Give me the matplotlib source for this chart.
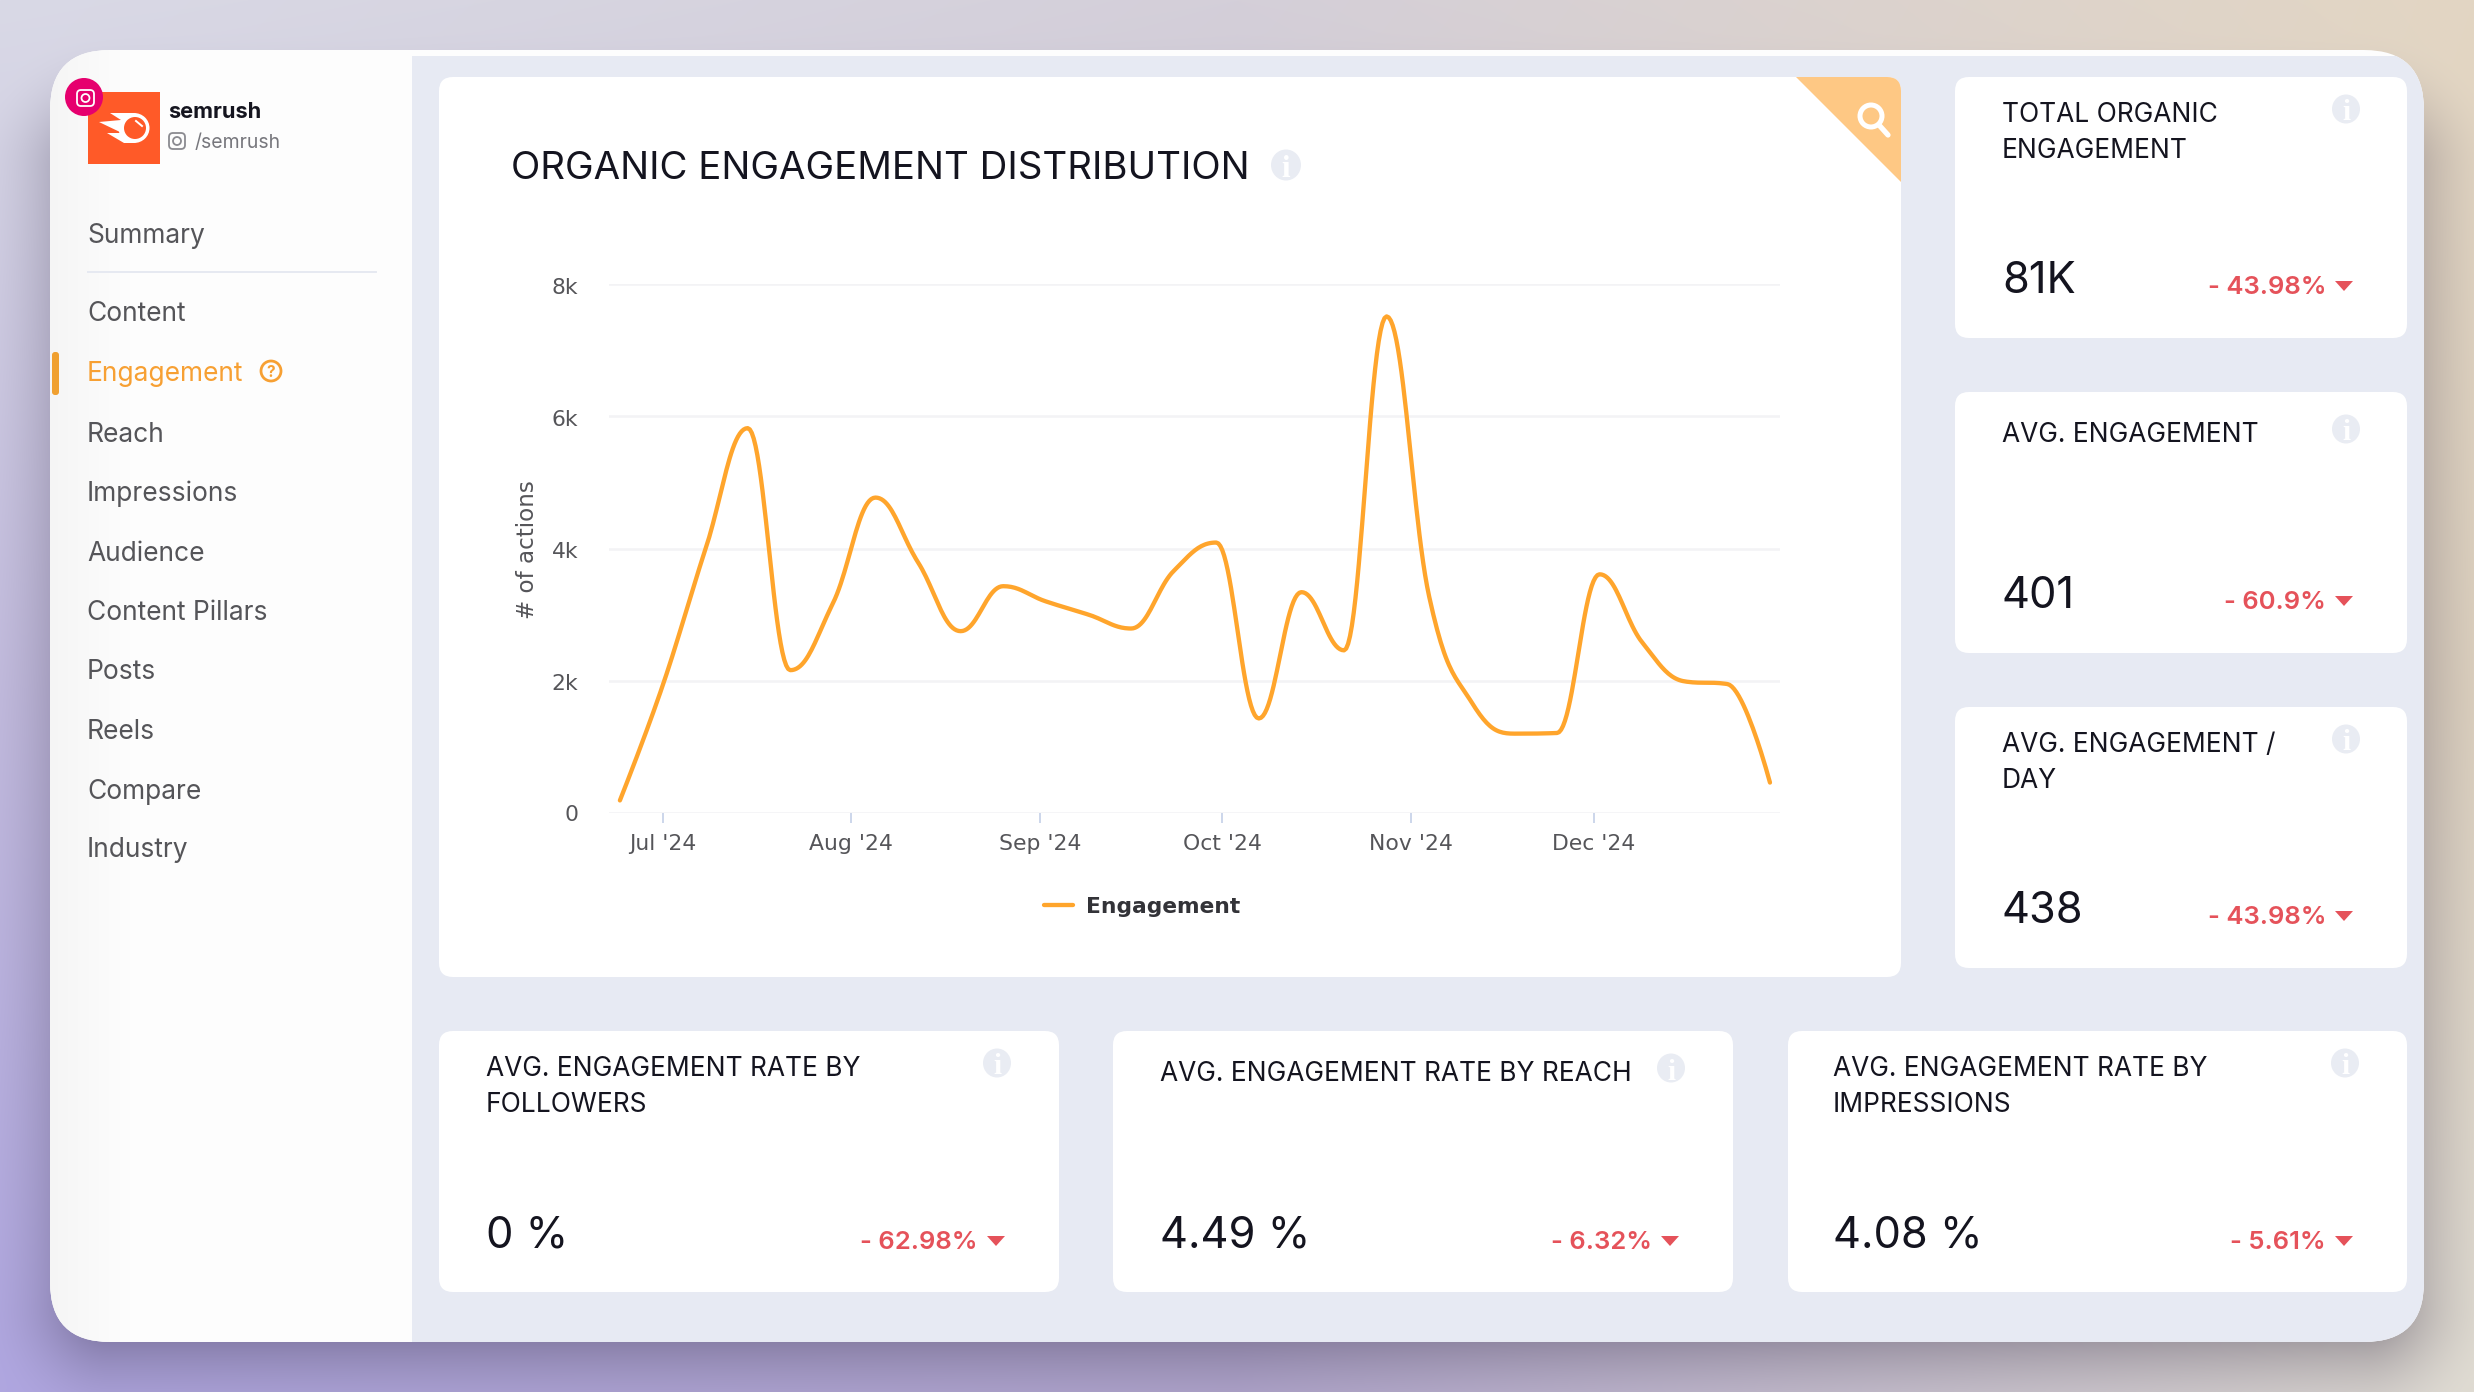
import numpy as np
import matplotlib
matplotlib.use("Agg")
import matplotlib.pyplot as plt
import matplotlib.dates as mdates
from datetime import date, timedelta
from matplotlib.font_manager import FontProperties
from matplotlib.patches import FancyBboxPatch, Polygon, Ellipse, Circle, Rectangle
from matplotlib.textpath import TextPath
from matplotlib.ticker import FuncFormatter
from matplotlib.lines import Line2D
from matplotlib.transforms import ScaledTranslation

# ---------- data ----------
NAV_ITEMS = ["Summary", "Content", "Engagement", "Reach", "Impressions", "Audience",
             "Content Pillars", "Posts", "Reels", "Compare", "Industry"]
WEEK_START = date(2024, 6, 24)
ENGAGEMENT = [190, 1920, 3970, 5820, 2160, 3170, 4770, 3790, 2750, 3430, 3200, 3000, 2790, 3660,
              4090, 1430, 3340, 2460, 7510, 3270, 1670, 1200, 1210, 3610, 2580, 1990, 1950, 460]
Y_TICKS = [0, 2000, 4000, 6000, 8000]
MONTH_TICKS = [date(2024, 7, 1), date(2024, 8, 1), date(2024, 9, 1),
               date(2024, 10, 1), date(2024, 11, 1), date(2024, 12, 1)]
MONTH_LABELS = ["Jul '24", "Aug '24", "Sep '24", "Oct '24", "Nov '24", "Dec '24"]
KPI_SIDE_TITLES = [["TOTAL ORGANIC", "ENGAGEMENT"], ["AVG. ENGAGEMENT"], ["AVG. ENGAGEMENT /", "DAY"]]
KPI_SIDE_VALUES = ["81K", "401", "438"]
KPI_SIDE_CHANGES = ["- 43.98%", "- 60.9%", "- 43.98%"]
KPI_BOTTOM_TITLES = [["AVG. ENGAGEMENT RATE BY", "FOLLOWERS"], ["AVG. ENGAGEMENT RATE BY REACH"],
                     ["AVG. ENGAGEMENT RATE BY", "IMPRESSIONS"]]
KPI_BOTTOM_VALUES = ["0 %", "4.49 %", "4.08 %"]
KPI_BOTTOM_CHANGES = ["- 62.98%", "- 6.32%", "- 5.61%"]

W, H = 2474, 1392
FONT = "Inter"
DARK = "#14141F"; GREY = "#555559"; ORANGE = "#F7A033"; LINE = "#FFA52C"; RED = "#E5525A"
CONTENT = "#E7EAF3"; INFO = "#E9ECF3"

def fit(s, px, family=FONT, weight="normal"):
    fp = FontProperties(family=family, weight=weight)
    w = TextPath((0, 0), s, size=100, prop=fp).get_extents().width
    return 100 * px * 0.72 / w

SZ_TITLE = fit("TOTAL ORGANIC", 213)
SZ_HEAD = fit("ORGANIC ENGAGEMENT DISTRIBUTION", 733)
SZ_VALUE = fit("438", 76.5)
SZ_CHANGE = fit("- 43.98%", 114, FONT, "semibold")
SZ_NAV = fit("Summary", 116)
SZ_TICK = fit("Jul '24", 67, "DejaVu Sans")
SZ_LEG = fit("Engagement", 152, "DejaVu Sans", "bold")
SZ_AXT = fit("# of actions", 136, "DejaVu Sans")

fig = plt.figure(figsize=(W / 100, H / 100), dpi=100)
bg = fig.add_axes([0, 0, 1, 1], zorder=0)
bg.set_xlim(0, W); bg.set_ylim(H, 0); bg.axis("off")

# ---------- backdrop with soft shadow ----------
def sdf(X, Y, x0, y0, x1, y1, r):
    cx, cy = (x0 + x1) / 2, (y0 + y1) / 2
    qx = np.abs(X - cx) - (x1 - x0) / 2 + r
    qy = np.abs(Y - cy) - (y1 - y0) / 2 + r
    return np.hypot(np.maximum(qx, 0), np.maximum(qy, 0)) + np.minimum(np.maximum(qx, qy), 0) - r

ys, xs = np.mgrid[0:H, 0:W]
grid = np.array([[[0xD9, 0xD9, 0xE6], [0xD4, 0xCF, 0xD9], [0xE3, 0xD6, 0xC3]],
                 [[0xC3, 0xBC, 0xDF], [0xC4, 0xBC, 0xCF], [0xDD, 0xD1, 0xBF]],
                 [[0xAF, 0xA6, 0xE0], [0xB3, 0xA8, 0xCF], [0xDF, 0xDB, 0xD2]]], float) / 255
u = xs / (W - 1) * 2; v = ys / (H - 1) * 2
i = np.clip(u.astype(int), 0, 1); j = np.clip(v.astype(int), 0, 1)
fu = (u - i)[..., None]; fv = (v - j)[..., None]
img = (grid[j, i] * (1 - fu) * (1 - fv) + grid[j, i + 1] * fu * (1 - fv)
       + grid[j + 1, i] * (1 - fu) * fv + grid[j + 1, i + 1] * fu * fv)
d = sdf(xs, ys, 50, 110, 2424, 1362, 60)
sh = np.clip(1 - (d + 30) / 110, 0, 1) ** 2 * 0.34
img = img * (1 - sh[..., None]) + np.array([0.13, 0.10, 0.2]) * sh[..., None]
bg.imshow(img, extent=(0, W, H, 0), aspect="auto", zorder=0, interpolation="nearest")

def round_box(x0, y0, x1, y1, r, color, z=2, **kw):
    p = FancyBboxPatch((x0 + r, y0 + r), x1 - x0 - 2 * r, y1 - y0 - 2 * r,
                       boxstyle=f"round,pad={r},rounding_size={r}", fc=color, ec="none", zorder=z, **kw)
    bg.add_patch(p)
    return p

panel = round_box(50, 50, 2424, 1342, 60, "#FDFDFD", z=1)
grad = np.linspace(0.962, 0.992, 80)[None, :, None].repeat(3, axis=2)
im = bg.imshow(grad, extent=(50, 130, 1342, 50), aspect="auto", zorder=1.1)
im.set_clip_path(panel)
cont = Rectangle((412, 56), 2012, 1286, fc=CONTENT, ec="none", zorder=1.2)
bg.add_patch(cont); cont.set_clip_path(panel)

def label(x, y, s, size, color=DARK, ha="left", va="center_baseline", family=FONT, **kw):
    return bg.text(x, y, s, fontsize=size, color=color, ha=ha, va=va, family=family, zorder=5, **kw)

# ---------- sidebar ----------
NAV_Y = [233, 311, 371, 432, 491, 551, 610, 669, 729, 789, 847]
for name, y in zip(NAV_ITEMS, NAV_Y):
    label(87, y, name, SZ_NAV, ORANGE if name == "Engagement" else GREY)
bg.add_line(Line2D([88, 376], [272, 272], color="#E6E9F1", lw=1.4, zorder=3))
round_box(52, 352, 59, 395, 3, "#F0A030", z=1.3)
bg.add_patch(Circle((271, 371), 10, fc="none", ec=ORANGE, lw=2, zorder=5))
label(271, 371, "?", 11, ORANGE, ha="center", weight="bold")

bg.add_patch(Rectangle((88, 92), 72, 72, fc="#FF5A28", ec="none", zorder=3))
bg.add_patch(Polygon([(110, 113), (134, 113), (149, 128), (134, 143), (124, 143), (107, 133),
                      (122, 133), (99, 122), (121, 120)], fc="white", ec="none", zorder=3.1))
bg.add_patch(Ellipse((134, 128), 31, 30, fc="white", ec="none", zorder=3.1))
bg.add_patch(Circle((135, 128), 11, fc="#FF5A28", ec="none", zorder=3.2))
bg.add_line(Line2D([136, 142], [121, 126], color="white", lw=1.4, zorder=3.3))
bg.add_patch(Circle((84, 97), 19, fc="#E6006E", ec="none", zorder=4))
round_box(77, 90, 94, 106, 4, "none", z=4.1).set(ec="white", lw=1.3)
bg.add_patch(Circle((85.5, 98), 4, fc="none", ec="white", lw=1.3, zorder=4.1))
label(168, 110, "semrush", fit("semrush", 91, "Inter", "bold"), "#15151F", weight="bold")
round_box(169, 133, 185, 149, 4, "none", z=4.1).set(ec="#8A8A90", lw=1.3)
bg.add_patch(Circle((177, 141), 4, fc="none", ec="#8A8A90", lw=1.3, zorder=4.1))
label(195, 141, "/semrush", fit("/semrush", 84), "#77777D")

# ---------- cards ----------
def info(x, y, r=14):
    bg.add_patch(Ellipse((x, y), 2 * r, 2 * r + 1, fc=INFO, ec="none", zorder=4))
    label(x, y + 1, "i", r * 1.5, "white", ha="center", family="Liberation Serif", weight="bold")

def kpi(box, lines, title_x, title_y, value, value_y, change, change_y, change_x, tri_x, info_xy):
    round_box(*box, 14, "white")
    for k, line in enumerate(lines):
        label(title_x, title_y + k * 36, line, SZ_TITLE)
    label(title_x, value_y, value, SZ_VALUE)
    label(change_x, change_y, change, SZ_CHANGE, RED, ha="right", weight="semibold")
    bg.add_patch(Polygon([(tri_x - 9, change_y - 4), (tri_x + 9, change_y - 4), (tri_x, change_y + 6)],
                         fc=RED, ec="none", zorder=5))
    info(*info_xy)

SIDE_BOX = [(1955, 77, 2407, 338), (1955, 392, 2407, 653), (1955, 707, 2407, 968)]
SIDE_TITLE_Y = [112, 432, 742]; SIDE_VAL_Y = [277, 592, 907]; SIDE_CH_Y = [285, 600, 915]
SIDE_INFO_Y = [109, 429, 739]
for b, t, ty, v, vy, c, cy, iy in zip(SIDE_BOX, KPI_SIDE_TITLES, SIDE_TITLE_Y, KPI_SIDE_VALUES, SIDE_VAL_Y,
                                      KPI_SIDE_CHANGES, SIDE_CH_Y, SIDE_INFO_Y):
    kpi(b, t, 2002, ty, v, vy, c, cy, 2326, 2344, (2346, iy))

BOT_BOX = [(439, 1031, 1059, 1292), (1113, 1031, 1733, 1292), (1788, 1031, 2407, 1292)]
BOT_X = [486, 1160, 1833]; BOT_TY = [1066, 1071, 1066]
BOT_CX = [978, 1652, 2326]; BOT_TRI = [996, 1670, 2344]; BOT_IX = [(997, 1063), (1671, 1068), (2345, 1063)]
for b, t, x, ty, v, c, cx, tx, ix in zip(BOT_BOX, KPI_BOTTOM_TITLES, BOT_X, BOT_TY, KPI_BOTTOM_VALUES,
                                         KPI_BOTTOM_CHANGES, BOT_CX, BOT_TRI, BOT_IX):
    kpi(b, t, x, ty, v, 1231, c, 1240, cx, tx, ix)

# chart card
card = round_box(439, 77, 1901, 977, 14, "white")
tri = Polygon([(1796, 77), (1901, 77), (1901, 182)], fc="#FEC884", ec="none", zorder=3)
bg.add_patch(tri); tri.set_clip_path(card)
bg.add_patch(Circle((1871, 116), 11, fc="none", ec="white", lw=3.6, zorder=4))
bg.add_line(Line2D([1879, 1888], [125, 135], color="white", lw=3.8, solid_capstyle="round", zorder=4))
label(511, 165, "ORGANIC ENGAGEMENT DISTRIBUTION", SZ_HEAD)
info(1286, 165, 15)

# ---------- chart ----------
def px_axes(x0, y0, x1, y1):
    return [x0 / W, 1 - y1 / H, (x1 - x0) / W, (y1 - y0) / H]

def spline(xv, yv, smoothing=1.5, n=24):
    """Chart-library style cubic spline through the given points."""
    m = len(xv); denom = smoothing + 1
    lc = [None] * m; rc = [None] * m
    for k in range(1, m - 1):
        x, y = xv[k], yv[k]; lx, ly = xv[k - 1], yv[k - 1]; nx, ny = xv[k + 1], yv[k + 1]
        lcx, lcy = (smoothing * x + lx) / denom, (smoothing * y + ly) / denom
        rcx, rcy = (smoothing * x + nx) / denom, (smoothing * y + ny) / denom
        corr = (rcy - lcy) * (rcx - x) / (rcx - lcx) + y - rcy
        lcy += corr; rcy += corr
        if lcy > ly and lcy > y:
            lcy = max(ly, y); rcy = 2 * y - lcy
        elif lcy < ly and lcy < y:
            lcy = min(ly, y); rcy = 2 * y - lcy
        if rcy > ny and rcy > y:
            rcy = max(ny, y); lcy = 2 * y - rcy
        elif rcy < ny and rcy < y:
            rcy = min(ny, y); lcy = 2 * y - rcy
        lc[k] = (lcx, lcy); rc[k] = (rcx, rcy)
    X, Y = [xv[0]], [yv[0]]
    for k in range(1, m):
        p0 = (xv[k - 1], yv[k - 1]); p3 = (xv[k], yv[k])
        p1 = rc[k - 1] or p0; p2 = lc[k] or p3
        for t in np.linspace(0, 1, n + 1)[1:]:
            a = (1 - t) ** 3; b = 3 * (1 - t) ** 2 * t; c = 3 * (1 - t) * t ** 2; e = t ** 3
            X.append(a * p0[0] + b * p1[0] + c * p2[0] + e * p3[0])
            Y.append(a * p0[1] + b * p1[1] + c * p2[1] + e * p3[1])
    return X, Y

dates = [WEEK_START + timedelta(days=7 * k) for k in range(len(ENGAGEMENT))]
xnum = mdates.date2num(dates)
ax = fig.add_axes(px_axes(609, 284, 1780, 813), zorder=2)
ax.patch.set_alpha(0)
d0 = mdates.date2num(date(2024, 7, 1))
PX_DAY = 6.085
ax.set_xlim(d0 - (662.5 - 609) / PX_DAY, d0 + (1780 - 662.5) / PX_DAY)
ax.set_ylim(0, 8000)
sx, sy = spline(list(xnum), ENGAGEMENT)
ax.plot(sx, sy, color=LINE, lw=3.1, label="Engagement", clip_on=False, zorder=3,
        solid_capstyle="round", solid_joinstyle="round")
for s in ax.spines.values():
    s.set_visible(False)
ax.set_yticks(Y_TICKS)
ax.yaxis.set_major_formatter(FuncFormatter(lambda v, _: "0" if v == 0 else f"{int(v / 1000)}k"))
ax.set_xticks(mdates.date2num(MONTH_TICKS), MONTH_LABELS)
ax.grid(axis="y", color="#F3F3F5", lw=1.8)
ax.set_axisbelow(True)
ax.tick_params(axis="y", length=0, pad=22, labelsize=SZ_TICK, labelcolor=GREY)
ax.tick_params(axis="x", length=7.5, width=1.4, color="#CCD6EB", pad=7.5, labelsize=SZ_TICK, labelcolor=GREY)
for lbl in ax.get_yticklabels()[1:]:
    lbl.set_transform(lbl.get_transform() + ScaledTranslation(0, -1.5 / 100, fig.dpi_scale_trans))
ylab = ax.set_ylabel("# of actions", fontsize=SZ_AXT, color=GREY, labelpad=9)
ylab.set_y(0.497)
ax.legend(loc="center", bbox_to_anchor=(1142 / W, 1 - 907 / H), bbox_transform=fig.transFigure, frameon=False,
          prop={"size": SZ_LEG, "weight": "bold"}, labelcolor="#333338", handlelength=1.36, handletextpad=0.58)

fig.savefig("out.png", dpi=100)
